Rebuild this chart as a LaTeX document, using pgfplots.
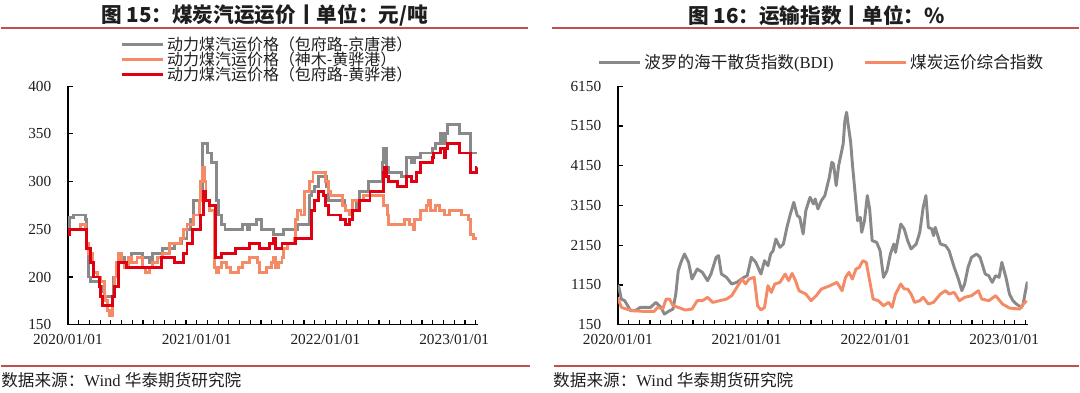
\documentclass[border=0pt]{standalone}
\usepackage{fontspec}
\setmainfont{Liberation Serif}
\newfontfamily\cjk{Noto Sans CJK SC}
\usepackage{pgfplots}
\pgfplotsset{compat=1.18}
\definecolor{cgray}{RGB}{137,137,137}
\definecolor{corange}{RGB}{245,138,102}
\definecolor{cred}{RGB}{224,0,18}
\definecolor{tline}{RGB}{192,80,77}
\definecolor{ctext}{RGB}{30,30,30}
\pgfplotsset{
  common/.style={
    scale only axis,
    width=308pt, height=179.25pt,
    axis x line*=bottom, axis y line*=left,
    axis line style={line width=1.1pt, black},
    tick align=inside,
    major tick length=3.8pt, minor tick length=3.8pt,
    every tick/.style={black, line width=0.9pt},
    xmin=0, xmax=38.2,
    xtick={0,12,24,36},
    xticklabels={2020/01/01,2021/01/01,2022/01/01,2023/01/01},
    minor xtick={1,...,38},
    ticklabel style={font=\fontsize{11.5}{12}\selectfont, text=ctext},
    /pgf/number format/assume math mode=true,
    /pgf/number format/1000 sep={},
    scaled y ticks=false,
    yticklabel style={xshift=-9pt},
    xticklabel style={yshift=-4pt},
    legend cell align=left,
    legend image code/.code={\draw[##1, line width=2.4pt] (0pt,0pt) -- (31pt,0pt);},
  },
}
\pgfplotstableread{
m v
0 250
0.16 262
0.48 265
1.61 260
1.77 230
1.93 200
2.09 195
2.90 190
3.22 185
3.38 180
4.28 200
4.67 215
4.99 220
5.31 215
5.95 225
6.92 220
7.56 215
7.88 225
8.85 230
9.97 235
10.62 240
11.10 250
11.42 260
11.74 280
12.39 290
12.55 340
12.97 330
13.35 320
13.84 280
14.00 265
14.32 255
14.64 250
16.25 255
16.73 250
16.89 255
17.54 260
18.02 250
19.14 245
20.11 250
21.40 255
22.52 285
22.68 290
23.01 295
23.33 305
24.13 295
24.29 280
25.74 275
25.90 270
26.22 265
26.54 270
26.87 280
27.19 290
27.99 300
29.28 320
29.44 335
29.70 315
29.92 310
31.05 305
31.53 325
32.01 320
32.34 325
32.82 330
33.94 335
34.27 340
34.75 350
34.91 340
35.23 350
35.39 360
36.52 350
37.55 330
38.13 330
}\gray
\pgfplotstableread{
m v
0 245
0.16 250
1.13 255
1.61 250
1.77 235
1.93 225
2.25 215
2.41 205
2.73 200
3.06 195
3.38 180
3.54 175
3.70 165
3.86 160
4.18 180
4.34 200
4.50 215
4.67 225
4.99 215
5.31 210
5.63 220
5.95 215
6.44 220
6.92 210
7.24 205
7.56 210
7.88 215
8.37 220
8.85 225
9.49 235
10.46 240
10.78 250
11.10 255
11.74 265
12.23 280
12.39 300
12.55 315
12.71 300
12.87 280
13.19 270
13.67 210
13.84 205
14.00 210
14.32 215
14.80 210
15.12 205
15.93 210
16.25 215
16.89 220
17.70 215
17.86 205
18.50 210
18.98 215
19.14 220
19.31 210
19.63 215
19.95 220
20.11 230
20.43 235
21.07 240
21.24 260
21.40 270
21.72 265
22.04 290
22.52 300
22.84 310
23.97 300
24.29 290
24.45 285
25.58 275
25.90 270
26.22 265
26.54 280
27.51 285
29.44 275
29.76 265
29.92 255
31.37 260
31.85 255
32.18 250
32.34 260
32.82 270
33.46 275
33.62 280
33.78 270
34.27 275
34.59 270
35.07 265
35.55 270
36.68 265
37.32 260
37.48 245
37.81 240
38.13 240
}\orange
\pgfplotstableread{
m v
0 245
0.16 250
1.77 230
2.09 215
2.41 200
2.90 190
3.06 180
3.22 170
4.18 180
4.34 190
4.67 210
4.73 215
5.47 210
8.69 220
9.97 215
10.78 225
11.10 235
11.58 250
12.39 265
12.61 290
12.87 280
13.19 275
13.74 220
14.32 225
15.60 230
16.89 235
17.86 230
18.82 235
19.14 240
19.31 230
19.95 235
21.24 240
22.68 270
23.01 280
23.33 290
23.81 285
23.97 275
24.29 265
25.42 260
25.90 255
26.22 260
26.54 270
27.19 280
28.15 290
29.38 310
29.50 315
29.70 305
29.92 300
30.73 295
31.53 305
32.01 300
32.50 310
32.82 320
33.94 325
34.11 330
34.75 335
35.07 325
35.23 335
35.39 340
36.52 330
37.48 310
38.06 315
38.13 315
}\red
\pgfplotstableread{
m v
0.00 1150
0.10 1090
0.32 796
0.64 754
1.19 502
1.61 502
2.09 586
3.05 586
3.54 712
4.02 586
4.34 418
4.82 502
5.14 544
5.40 922
5.63 1509
5.88 1719
6.21 1929
6.59 1719
6.91 1299
7.40 1551
7.88 1467
8.36 1257
8.68 1425
9.16 1845
9.39 1887
9.65 1425
10.13 1341
10.61 1174
11.09 1216
11.74 1341
12.06 1383
12.44 1845
12.86 1719
13.34 1425
13.67 1761
13.99 1635
14.24 1929
14.47 2013
14.73 2306
15.11 2097
15.43 2181
15.76 2600
16.08 2936
16.40 3230
16.72 2894
16.95 2852
17.27 2432
17.52 3020
17.91 3355
18.23 3188
18.39 3314
18.65 3062
18.97 3272
19.29 3397
19.71 3859
19.94 4237
20.10 4195
20.35 3649
20.58 4153
20.84 4488
21.00 4698
21.16 5286
21.32 5495
21.48 5160
21.70 4740
21.86 4195
22.09 3523
22.35 2768
22.60 2852
22.73 2474
22.99 2768
23.25 3397
23.47 3062
23.70 2265
24.12 2223
24.44 2013
24.76 1341
25.08 1509
25.40 1929
25.72 2181
25.88 1971
26.37 2684
26.69 2558
27.01 2265
27.33 2055
27.81 2181
28.14 2474
28.46 3104
28.71 3397
28.94 2600
29.26 2558
29.42 2390
29.58 2600
30.06 2181
30.55 2139
30.87 2013
31.35 1593
31.74 1299
32.06 1006
32.32 1174
32.64 1593
32.96 1845
33.44 1929
33.76 1845
34.24 1425
34.57 1383
34.89 1216
35.21 1383
35.53 1341
35.79 1719
36.17 1341
36.50 922
36.82 754
37.14 670
37.62 586
37.78 670
37.94 922
38.17 1232
}\bdi
\pgfplotstableread{
m v
0.00 838
0.32 586
0.80 544
1.45 502
2.41 485
3.38 485
3.70 586
4.18 544
4.50 796
4.82 796
5.14 628
5.63 586
6.27 519
6.91 544
7.40 754
7.88 754
8.36 838
8.84 712
9.49 754
10.13 796
10.61 880
11.09 1090
11.58 1299
11.90 1174
12.22 1299
12.70 1341
12.86 1006
13.02 628
13.34 519
13.67 586
13.99 1132
14.31 964
14.63 1174
15.11 1216
15.59 1425
15.92 1257
16.24 1442
16.56 1257
16.88 1006
17.52 922
18.01 754
18.49 880
18.97 1048
19.77 1132
20.42 1216
20.90 1006
21.22 1341
21.54 1467
21.86 1299
22.19 1551
22.51 1593
22.83 1761
23.15 1719
23.47 1257
23.79 796
24.28 754
24.76 628
25.24 712
25.56 586
25.88 922
26.37 1174
26.69 1048
27.01 1048
27.33 922
27.65 712
28.14 754
28.46 838
28.94 670
29.42 712
30.06 922
30.55 1006
30.87 922
31.35 964
31.83 754
32.32 838
32.96 880
33.60 1006
33.92 796
34.57 754
35.21 880
35.85 670
36.50 569
37.46 544
37.78 670
38.10 754
}\coal
\begin{document}
\begin{tikzpicture}
\path (0pt,0pt) rectangle (810pt,294.75pt);
% decorations (1px = 0.75pt)
\draw[tline, line width=1.6pt] (0pt,274.1pt) -- (396pt,274.1pt);
\draw[tline, line width=1.6pt] (414pt,274.1pt) -- (810pt,274.1pt);
\draw[tline, line width=1.6pt] (0pt,20.25pt) -- (397.5pt,20.25pt);
\draw[tline, line width=1.6pt] (415.5pt,20.25pt) -- (810pt,20.25pt);
\node[font=\cjk\bfseries\fontsize{15.5}{16}\selectfont, text=ctext] at (198pt,283.5pt) {图 15：煤炭汽运运价丨单位：元/吨};
\node[font=\cjk\bfseries\fontsize{15.5}{16}\selectfont, text=ctext] at (612.75pt,283.5pt) {图 16：运输指数丨单位：\%};
\node[anchor=west, inner sep=0pt, text=ctext, font=\fontsize{12.5}{13}\selectfont] at (0pt,9pt) {{\cjk 数据来源：}Wind {\cjk 华泰期货研究院}};
\node[anchor=west, inner sep=0pt, text=ctext, font=\fontsize{12.5}{13}\selectfont] at (414.75pt,9pt) {{\cjk 数据来源：}Wind {\cjk 华泰期货研究院}};
% left chart
\begin{axis}[common, at={(50.25pt,51pt)}, anchor=south west,
  ymin=150, ymax=400, ytick={150,200,...,400},
  legend style={at={(0.487,1.112)}, anchor=center, draw=none, fill=none,
    font=\cjk\fontsize{12}{12}\selectfont, text=ctext, row sep=-4.5pt, inner sep=0pt},
]
\addplot[const plot, cgray, line width=2.2pt] table[x=m,y=v] {\gray};
\addlegendentry{动力煤汽运价格（包府路-京唐港）}
\addplot[const plot, corange, line width=2.2pt] table[x=m,y=v] {\orange};
\addlegendentry{动力煤汽运价格（神木-黄骅港）}
\addplot[const plot, cred, line width=2.2pt] table[x=m,y=v] {\red};
\addlegendentry{动力煤汽运价格（包府路-黄骅港）}
\end{axis}
% right chart
\begin{axis}[common, at={(463.5pt,51pt)}, anchor=south west,
  ymin=150, ymax=6150, ytick={150,1150,...,6150},
  legend columns=2,
  legend style={at={(0.497,1.10)}, anchor=center, draw=none, fill=none,
    font=\cjk\fontsize{12.5}{12.5}\selectfont, text=ctext, inner sep=0pt,
    /tikz/every even column/.append style={column sep=20pt}},
]
\addplot[cgray, line width=2.2pt, line join=round] table[x=m,y=v] {\bdi};
\addlegendentry{波罗的海干散货指数{\rmfamily(BDI)}}
\addplot[corange, line width=2.2pt, line join=round] table[x=m,y=v] {\coal};
\addlegendentry{煤炭运价综合指数}
\end{axis}
\end{tikzpicture}
\end{document}
